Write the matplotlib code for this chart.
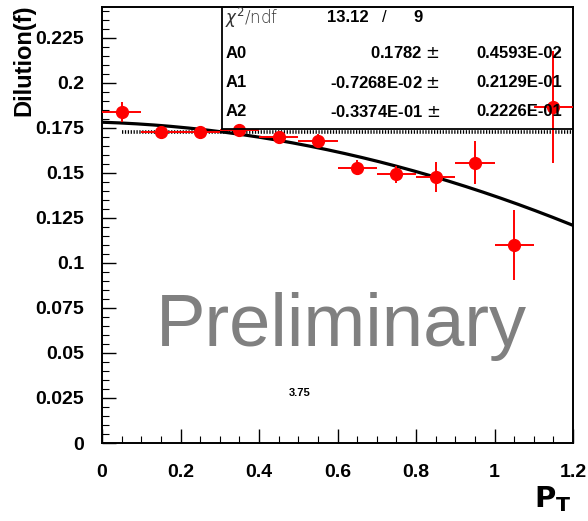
import numpy as np
import matplotlib
matplotlib.use("Agg")
import matplotlib.pyplot as plt
from matplotlib.ticker import MultipleLocator

plt.rcParams['font.family'] = ['Liberation Sans', 'DejaVu Sans']

# ---- data ----
pt = [0.05, 0.15, 0.25, 0.35, 0.45, 0.55, 0.65, 0.75, 0.85, 0.95, 1.05, 1.15]
pt_err = [0.05] * 12
dilution = [0.184, 0.1728, 0.173, 0.174, 0.170, 0.168, 0.153, 0.1494, 0.1478, 0.1556, 0.110, 0.1865]
dilution_err = [0.0055, 0.003, 0.003, 0.003, 0.003, 0.0035, 0.004, 0.0047, 0.0083, 0.012, 0.0196, 0.031]

fit_params = {"A0": 0.1782, "A1": -0.7268e-02, "A2": -0.3374e-01}
fit_range = [0.0, 1.2]
flat_level = 0.173
flat_range = [0.05, 1.2]

stat_rows = [("A0", "0.1782", "0.4593E-02"),
             ("A1", "-0.7268E-02", "0.2129E-01"),
             ("A2", "-0.3374E-01", "0.2226E-01")]
chi2_text = ("13.12", "/", "9")

x_ticks = [0, 0.2, 0.4, 0.6, 0.8, 1.0, 1.2]
x_ticklabels = ["0", "0.2", "0.4", "0.6", "0.8", "1", "1.2"]
y_ticks = [0, 0.025, 0.05, 0.075, 0.1, 0.125, 0.15, 0.175, 0.2, 0.225]
y_ticklabels = ["0", "0.025", "0.05", "0.075", "0.1", "0.125", "0.15", "0.175", "0.2", "0.225"]

W, H = 588, 521
fig = plt.figure(figsize=(W / 100, H / 100), dpi=100)
ax = fig.add_axes([102 / W, (H - 443) / H, (573 - 102) / W, (443 - 7) / H])
ax.set_xlim(0, 1.2)
ax.set_ylim(0, 0.2422)

# fit curve
xf = np.linspace(fit_range[0], fit_range[1], 300)
yf = fit_params["A0"] + fit_params["A1"] * xf + fit_params["A2"] * xf ** 2
ax.plot(xf, yf, color='black', lw=2.3, zorder=3)

# flat dotted line
ax.plot(flat_range, [flat_level, flat_level], color='black', lw=2.6,
        linestyle=(0, (0.35, 0.45)), zorder=2)

# data points
ax.errorbar(pt, dilution, xerr=pt_err, yerr=dilution_err, fmt='o', color='#ff0000',
            ms=8.5, elinewidth=1.4, capsize=0, zorder=4, clip_on=True)

# stat box lines (axes coords)
bx0 = (222 - 102) / 471
by0 = (443 - 129) / 436
ax.plot([bx0, bx0], [by0, 1], transform=ax.transAxes, color='black', lw=1.3, zorder=5)
ax.plot([bx0, 1], [by0, by0], transform=ax.transAxes, color='black', lw=1.3, zorder=5)

def fx(px):
    return px / W

def fy(py):
    return 1 - py / H

fig.text(fx(225), fy(18), r'$\chi^{2}$/ndf', fontsize=12, color='#333333', va='center', ha='left',
         family='DejaVu Sans', fontweight='light')
fig.text(fx(327), fy(18), chi2_text[0], fontsize=12, fontweight='bold', va='center', ha='left')
fig.text(fx(384), fy(18), chi2_text[1], fontsize=12, va='center', ha='center')
fig.text(fx(413), fy(18), chi2_text[2], fontsize=12, fontweight='bold', va='center', ha='left')
for i, (name, val, err) in enumerate(stat_rows):
    yy = fy(53 + 29.5 * i)
    fig.text(fx(226), yy, name, fontsize=12, fontweight='bold', va='center', ha='left')
    fig.text(fx(440), yy, val + r' $\pm$', fontsize=12, fontweight='bold', va='center', ha='right')
    fig.text(fx(562), yy, err, fontsize=12, fontweight='bold', va='center', ha='right')

# ticks
ax.set_xticks(x_ticks)
ax.set_xticklabels(x_ticklabels)
ax.set_yticks(y_ticks)
ax.set_yticklabels(y_ticklabels)
ax.xaxis.set_minor_locator(MultipleLocator(0.05))
ax.yaxis.set_minor_locator(MultipleLocator(0.005))
ax.tick_params(axis='both', which='both', direction='in', top=False, right=False)
ax.tick_params(axis='x', which='major', length=10, width=1.0, pad=15)
ax.tick_params(axis='x', which='minor', length=5, width=0.8)
ax.tick_params(axis='y', which='major', length=10, width=1.0, pad=13)
ax.tick_params(axis='y', which='minor', length=5, width=0.8)
for lab in ax.get_xticklabels() + ax.get_yticklabels():
    lab.set_fontsize(14)
    lab.set_fontweight('bold')
for s in ax.spines.values():
    s.set_linewidth(1.4)

# labels
fig.text(fx(24), fy(4), 'Dilution(f)', rotation=90, fontsize=17, fontweight='bold',
         ha='center', va='top')
fig.text(fx(572), fy(514), r'$\mathbf{P_{T}}$', fontsize=21, ha='right', va='bottom')

# watermark
fig.text(fx(341), fy(346), 'Preliminary', fontsize=53.5, color='#808080', ha='center',
         va='baseline')
fig.text(fx(300), fy(393), '3.75', fontsize=8, fontweight='bold', ha='center', va='center')

fig.savefig('out.png', dpi=100)
